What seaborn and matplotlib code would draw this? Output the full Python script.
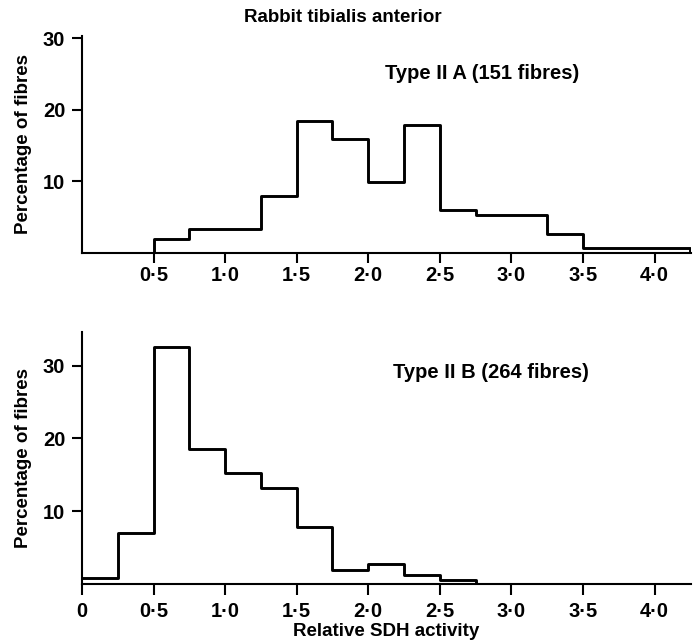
import matplotlib
matplotlib.use("Agg")
import matplotlib.pyplot as plt
import seaborn as sns
import numpy as np
import pandas as pd

# ---- data ----
bin_edges = [0.0, 0.25, 0.5, 0.75, 1.0, 1.25, 1.5, 1.75, 2.0, 2.25, 2.5,
             2.75, 3.0, 3.25, 3.5, 3.75, 4.0, 4.25, 4.5]
type_2a_pct = [0.0, 0.0, 2.0, 3.3, 3.3, 7.9, 18.5, 15.9, 9.9, 17.9, 6.0,
               5.3, 5.3, 2.6, 0.66, 0.66, 0.66, 0.0]
type_2b_pct = [0.8, 7.0, 32.5, 18.6, 15.2, 13.2, 7.8, 1.9, 2.7, 1.3, 0.6,
               0.0, 0.0, 0.0, 0.0, 0.0, 0.0, 0.0]
top_xticks = [0.5, 1.0, 1.5, 2.0, 2.5, 3.0, 3.5, 4.0]
top_xticklabels = ["0·5", "1·0", "1·5", "2·0", "2·5", "3·0", "3·5", "4·0"]
bot_xticks = [0.0, 0.5, 1.0, 1.5, 2.0, 2.5, 3.0, 3.5, 4.0]
bot_xticklabels = ["0", "0·5", "1·0", "1·5", "2·0", "2·5", "3·0", "3·5", "4·0"]
yticks = [10, 20, 30]
title = "Rabbit tibialis anterior"
label_2a = "Type II A (151 fibres)"
label_2b = "Type II B (264 fibres)"
ylabel = "Percentage of fibres"
xlabel = "Relative SDH activity"

sns.set_style("ticks")
plt.rcParams['font.family'] = ['Liberation Sans', 'DejaVu Sans']
plt.rcParams['font.weight'] = 'bold'
plt.rcParams['text.color'] = 'black'
plt.rcParams['axes.labelcolor'] = 'black'
plt.rcParams['xtick.color'] = 'black'
plt.rcParams['ytick.color'] = 'black'

fig = plt.figure(figsize=(6.95, 6.43), dpi=100)
W, H = 695, 643
def axrect(l, t, r, b):
    return [l / W, 1 - b / H, (r - l) / W, (b - t) / H]

ax1 = fig.add_axes(axrect(82, 36, 691, 253))
ax2 = fig.add_axes(axrect(82, 332, 691, 584))

centers = [(bin_edges[i] + bin_edges[i + 1]) / 2 for i in range(len(bin_edges) - 1)]
df1 = pd.DataFrame({"x": centers, "w": type_2a_pct})
df2 = pd.DataFrame({"x": centers, "w": type_2b_pct})

for ax, df, ytop in [(ax1, df1, 30.3), (ax2, df2, 34.6)]:
    sns.histplot(data=df, x="x", weights="w", bins=bin_edges, element="step",
                 fill=False, color="black", linewidth=2.1, ax=ax)
    ax.set_xlim(0, 4.255)
    ax.set_ylim(0, ytop)
    sns.despine(ax=ax)
    for s in ["left", "bottom"]:
        ax.spines[s].set_linewidth(1.5)
        ax.spines[s].set_color("black")
    ax.tick_params(direction="out", length=7, width=1.5, colors="black",
                   labelsize=14.5)
    ax.tick_params(axis="y", pad=5)
    ax.set_yticks(yticks)
    ax.set_yticklabels([str(v) for v in yticks])
    ax.set_ylabel(ylabel, fontsize=13.5, fontweight="bold", labelpad=8)
    ax.set_xlabel("")

ax1.tick_params(axis="x", pad=2)
ax2.tick_params(axis="x", pad=5, length=8)
ax1.set_xticks(top_xticks)
ax1.set_xticklabels(top_xticklabels)
ax2.set_xticks(bot_xticks)
ax2.set_xticklabels(bot_xticklabels)
fig.text(386 / W, 1 - 631 / H, xlabel, fontsize=13.5, fontweight="bold",
         ha="center", va="center")

ax1.text(2.12, 25.1, label_2a, fontsize=14.5, fontweight="bold", va="center", ha="left")
ax2.text(2.17, 29.0, label_2b, fontsize=14.5, fontweight="bold", va="center", ha="left")
fig.text(343 / W, 1 - 18 / H, title, fontsize=13.5, fontweight="bold",
         ha="center", va="center")

fig.savefig("out.png", dpi=100)
